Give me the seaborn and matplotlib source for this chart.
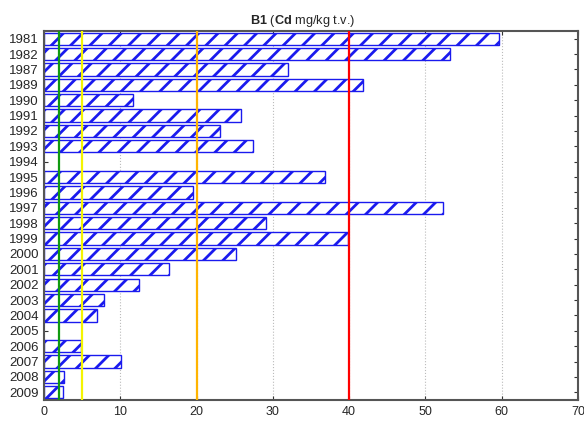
import matplotlib
matplotlib.use("Agg")
import matplotlib.pyplot as plt
import seaborn as sns
import pandas as pd
import numpy as np

years = ["1981", "1982", "1987", "1989", "1990", "1991", "1992", "1993", "1994",
         "1995", "1996", "1997", "1998", "1999", "2000", "2001", "2002", "2003",
         "2004", "2005", "2006", "2007", "2008", "2009"]
cd_values = [59.6, 53.2, 32.0, 41.8, 11.7, 25.8, 23.1, 27.4, 0.0,
             36.9, 19.5, 52.3, 29.1, 39.9, 25.2, 16.4, 12.4, 7.8,
             7.0, 0.0, 4.9, 10.1, 2.6, 2.5]
limit_values = [2, 5, 20, 40]
limit_colors = ["#109a10", "#f4f400", "#ffb400", "#ff0000"]
x_ticks = [0, 10, 20, 30, 40, 50, 60, 70]

DPI = 116
S = 100 / DPI  # keep point sizes looking as at 100 dpi

sns.set_theme(style="white")
plt.rcParams["font.family"] = ["Liberation Sans", "DejaVu Sans"]
plt.rcParams["mathtext.fontset"] = "custom"
plt.rcParams["mathtext.bf"] = "Liberation Sans:bold"
plt.rcParams["mathtext.rm"] = "Liberation Sans"
plt.rcParams["hatch.color"] = "#0000ee"
plt.rcParams["hatch.linewidth"] = 2.0 * S

df = pd.DataFrame({"year": years, "cd": cd_values})

fig = plt.figure(figsize=(584 / DPI, 423 / DPI), dpi=DPI)
ax = fig.add_axes([44 / 584, 1 - 400 / 423, (578 - 44) / 584, (400 - 31) / 423])

sns.barplot(data=df, x="cd", y="year", order=years, orient="h", ax=ax,
            color="white", edgecolor="#1010ee", linewidth=1.0 * S, width=0.8,
            zorder=2)
for p in ax.patches:
    p.set_hatch("//")
    p.set_facecolor("white")
    p.set_edgecolor("#1a1aee")
    if p.get_width() == 0:
        p.set_visible(False)

for v, c in zip(limit_values, limit_colors):
    ax.axvline(v, color=c, lw=1.6 * S, zorder=4)

ax.set_xlim(0, 70)
ax.set_ylim(len(years) - 0.5, -0.5)
ax.set_xticks(x_ticks)
ax.set_xticklabels([str(t) for t in x_ticks], fontsize=9 * S)
ax.set_yticks(range(len(years)))
ax.set_yticklabels(years, fontsize=9.5 * S)
ax.set_xlabel("")
ax.set_ylabel("")
ax.grid(axis="x", color="#bbbbbb", linestyle=":", linewidth=0.8 * S, zorder=0)
ax.set_axisbelow(True)
ax.tick_params(axis="both", direction="in", length=3 * S, width=0.8 * S, color="#333333",
               top=True, right=True, bottom=True, left=True, pad=4 * S)
for s in ax.spines.values():
    s.set_visible(True)
    s.set_color("#555555")
    s.set_linewidth(1.5 * S)

ax.set_title(r"$\bf{B1}$ ($\bf{Cd}$ mg/kg t.v.)", fontsize=9.2 * S, pad=5 * S,
             x=0.485)

fig.savefig("out.png", dpi=DPI)
